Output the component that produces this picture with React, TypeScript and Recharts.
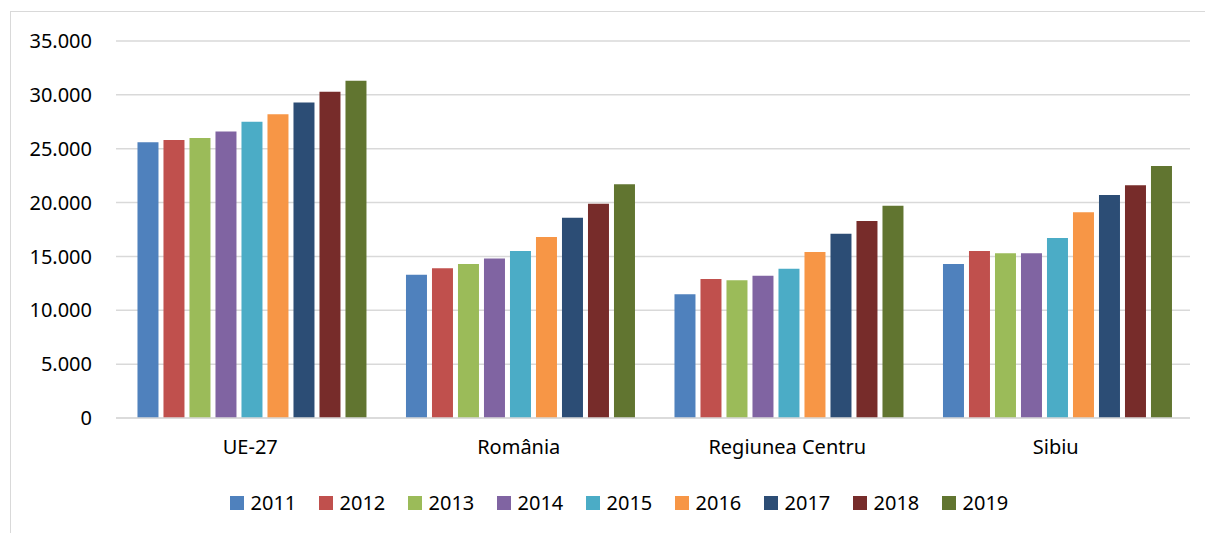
import { Bar, BarChart, CartesianGrid, Legend, XAxis, YAxis } from "recharts"

const regions = ["UE-27", "România", "Regiunea Centru", "Sibiu"]
const years = ["2011", "2012", "2013", "2014", "2015", "2016", "2017", "2018", "2019"]

// values per year, in the order of regions
const v2011 = [25600, 13300, 11500, 14300]
const v2012 = [25800, 13900, 12900, 15500]
const v2013 = [26000, 14300, 12800, 15300]
const v2014 = [26600, 14800, 13200, 15300]
const v2015 = [27500, 15500, 13850, 16700]
const v2016 = [28200, 16800, 15400, 19100]
const v2017 = [29300, 18600, 17100, 20700]
const v2018 = [30300, 19900, 18300, 21600]
const v2019 = [31300, 21700, 19700, 23400]

const yTicks = [0, 5000, 10000, 15000, 20000, 25000, 30000, 35000]

const seriesValues = [v2011, v2012, v2013, v2014, v2015, v2016, v2017, v2018, v2019]
const colors = [
  "#4f81bd",
  "#c0504d",
  "#9bbb59",
  "#8064a2",
  "#4bacc6",
  "#f79646",
  "#2c4d75",
  "#772c2a",
  "#617530",
]

const data = regions.map((name, i) => {
  const row: Record<string, string | number> = { name }
  years.forEach((y, j) => {
    row[y] = seriesValues[j][i]
  })
  return row
})

const font = "'Noto Sans', sans-serif"

const formatTick = (v: number) => (v === 0 ? "0" : v.toLocaleString("de-DE"))

const LegendContent = () => (
  <div style={{ display: "flex", justifyContent: "center", paddingLeft: 70, height: 24, alignItems: "center" }}>
    {years.map((y, i) => (
      <div key={y} style={{ display: "flex", alignItems: "center", width: 89 }}>
        <span style={{ width: 14, height: 14, background: colors[i], marginRight: 7, display: "inline-block" }} />
        <span style={{ fontSize: 20, lineHeight: "24px", color: "#000", fontFamily: font }}>{y}</span>
      </div>
    ))}
  </div>
)

export default function App() {
  return (
    <div style={{ position: "absolute", left: 0, top: 0, width: 1205, height: 533, background: "#fff", fontFamily: font }}>
      <div
        style={{
          position: "absolute",
          left: 10,
          top: 11,
          width: 1200,
          height: 530,
          border: "1px solid #d9d9d9",
        }}
      />
      <BarChart
        width={1205}
        height={533}
        data={data}
        margin={{ top: 41, right: 15, bottom: 18, left: 0 }}
        barCategoryGap="8%"
        barGap={5}
      >
        <CartesianGrid vertical={false} stroke="#d9d9d9" strokeWidth={1.5} />
        <XAxis
          dataKey="name"
          axisLine={{ stroke: "#d9d9d9", strokeWidth: 1.5 }}
          tickLine={false}
          tickMargin={16}
          height={73}
          tick={{ fill: "#000", fontSize: 20, fontFamily: font }}
        />
        <YAxis
          width={116}
          domain={[0, 35000]}
          ticks={yTicks}
          interval={0}
          axisLine={false}
          tickLine={false}
          tickSize={0}
          tickMargin={24}
          tickFormatter={formatTick}
          tick={{ fill: "#000", fontSize: 20, fontFamily: font }}
        />
        <Legend verticalAlign="bottom" height={24} content={<LegendContent />} />
        {years.map((y, i) => (
          <Bar key={y} dataKey={y} fill={colors[i]} isAnimationActive={false} />
        ))}
      </BarChart>
    </div>
  )
}
